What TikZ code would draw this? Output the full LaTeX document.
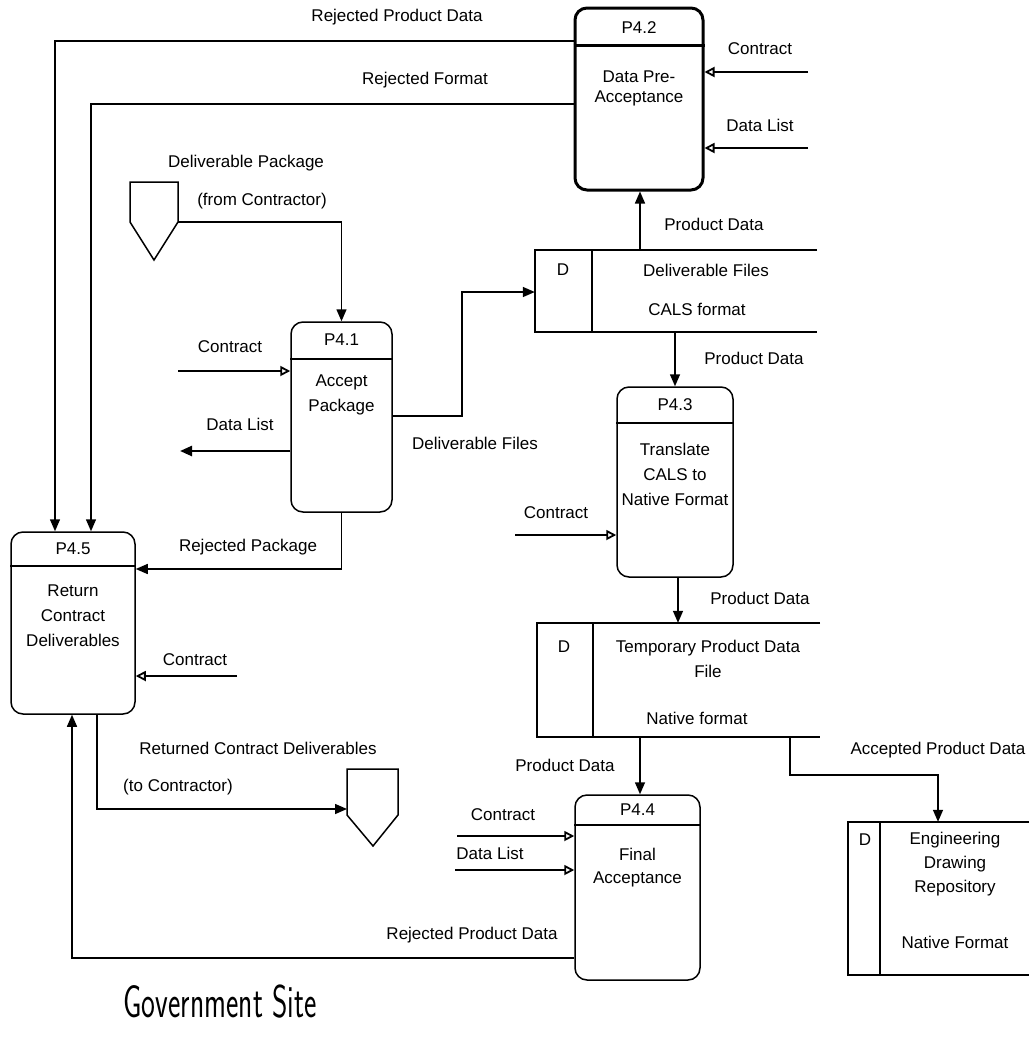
\documentclass[tikz,border=0pt]{standalone}
\usepackage{fontspec}
\setmainfont{Liberation Sans}
\usetikzlibrary{arrows.meta}

\tikzset{
  line/.style={line width=1.5pt},
  proc/.style={draw, line width=1.5pt, rounded corners=12pt, inner sep=0pt},
  store/.style={inner sep=0pt},
  lbl/.style={font=\fontsize{17}{25}\selectfont, inner sep=0pt, align=center},
  flow/.style={line width=1.5pt, -{Triangle[length=12pt,width=10pt]}},
  inflow/.style={line width=2.4pt, -{Triangle[open,length=10pt,width=10pt,line width=1.8pt]}},
}

\begin{document}
\begin{tikzpicture}[x=1pt,y=-1pt]
  \useasboundingbox (0,0) rectangle (1029,1050);

  % processes
  \node[proc, line width=3pt, minimum width=128pt, minimum height=182pt] (p42) at (639,99) {};
  \node[proc, minimum width=101pt, minimum height=190pt] (p41) at (341.5,417) {};
  \node[proc, minimum width=116pt, minimum height=190pt] (p43) at (675,482) {};
  \node[proc, minimum width=125pt, minimum height=185pt] (p44) at (637.5,887.5) {};
  \node[proc, minimum width=124pt, minimum height=182pt] (p45) at (73,623) {};

  \draw[line width=3pt] (p42.west |- 0,45) -- (p42.east |- 0,45);
  \draw[line] (p41.west |- 0,359) -- (p41.east |- 0,359);
  \draw[line] (p43.west |- 0,423) -- (p43.east |- 0,423);
  \draw[line] (p44.west |- 0,825) -- (p44.east |- 0,825);
  \draw[line] (p45.west |- 0,566) -- (p45.east |- 0,566);

  \node[lbl] (p42t) at (639,28) {P4.2};
  \node[lbl, font=\fontsize{17}{20}\selectfont] (p42b) at (639,88) {Data Pre-\\Acceptance};
  \node[lbl] (p41t) at (341.5,340) {P4.1};
  \node[lbl] (p41b) at (341.5,395) {Accept\\Package};
  \node[lbl] (p43t) at (675,405) {P4.3};
  \node[lbl] (p43b) at (675,474) {Translate\\CALS to\\Native Format};
  \node[lbl] (p44t) at (637.5,810) {P4.4};
  \node[lbl, font=\fontsize{17}{23}\selectfont] (p44b) at (637.5,868) {Final\\Acceptance};
  \node[lbl] (p45t) at (73,549) {P4.5};
  \node[lbl] (p45b) at (73,616) {Return\\Contract\\Deliverables};

  % data stores
  \node[store, minimum width=282pt, minimum height=82pt] (ds1) at (676,291) {};
  \node[store, minimum width=283pt, minimum height=114pt] (ds2) at (678.5,680) {};
  \node[store, minimum width=181pt, minimum height=153pt] (ds3) at (938.5,898.5) {};
  \foreach \s/\w in {ds1/57, ds2/56, ds3/32} {
    \draw[line] (\s.north east) -- (\s.north west) -- (\s.south west) -- (\s.south east);
    \draw[line] ([xshift=\w pt]\s.north west) -- ([xshift=\w pt]\s.south west);
  }
  \node[lbl] (ds1d) at (563,270) {D};
  \node[lbl] (ds1a) at (706,270) {Deliverable Files};
  \node[lbl] (ds1b) at (697,309) {CALS format};
  \node[lbl] (ds2d) at (564,647) {D};
  \node[lbl] (ds2a) at (708,659) {Temporary Product Data\\File};
  \node[lbl] (ds2b) at (697,718) {Native format};
  \node[lbl] (ds3d) at (865,840) {D};
  \node[lbl, font=\fontsize{17}{24}\selectfont] (ds3a) at (955,864) {Engineering\\Drawing\\Repository};
  \node[lbl] (ds3b) at (955,942) {Native Format};

  % off-page connectors
  \draw[line] (130,182) -- (178,182) -- (178,222) -- (154,260) -- (130,222) -- cycle;
  \draw[line] (347,769) -- (398,769) -- (398,815) -- (373,846) -- (347,815) -- cycle;
  \coordinate (offin) at (178,222);
  \coordinate (offout) at (347,809);

  % flows around P4.2
  \coordinate (rpd) at (55,41);
  \coordinate (rf) at (91,104);
  \draw[flow] (p42.west |- rpd) -- (rpd) -- (rpd |- p45.north);
  \draw[flow] (p42.west |- rf) -- (rf) -- (rf |- p45.north);
  \node[lbl] (rpdl) at (397,17) {Rejected Product Data};
  \node[lbl] (rfl) at (425,80) {Rejected Format};
  \coordinate (c42) at (808,72);
  \coordinate (dl42) at (808,148);
  \draw[inflow] (c42) -- (c42 -| p42.east);
  \draw[inflow] (dl42) -- (dl42 -| p42.east);
  \node[lbl] (c42l) at (760,49) {Contract};
  \node[lbl] (dl42l) at (760,125) {Data List};
  \coordinate (pd1) at (640,220);
  \draw[flow] (pd1 |- ds1.north) -- (pd1 |- p42.south);
  \node[lbl] (pd1l) at (714,224) {Product Data};

  % flows around P4.1
  \coordinate (dp) at (341.5,222);
  \draw[flow] (offin) -- (dp) -- (dp |- p41.north);
  \node[lbl] (dpl) at (246,163) {Deliverable Package};
  \node[lbl] (dpl2) at (262,201) {(from Contractor)};
  \coordinate (c41) at (178,371);
  \coordinate (dl41) at (180,451);
  \draw[inflow] (c41) -- (c41 -| p41.west);
  \draw[flow, line width=2.4pt] (dl41 -| p41.west) -- (dl41);
  \node[lbl] (c41l) at (230,347) {Contract};
  \node[lbl] (dl41l) at (240,424) {Data List};
  \coordinate (df) at (462,292);
  \draw[flow] (p41.east |- 0,416) -- (df |- 0,416) -- (df) -- (df -| ds1.west);
  \node[lbl] (dfl) at (475,443) {Deliverable Files};
  \coordinate (rp) at (341.5,569);
  \draw[flow] (rp |- p41.south) -- (rp) -- (rp -| p45.east);
  \node[lbl] (rpl) at (248,547) {Rejected Package};

  % flows around P4.3
  \coordinate (pd2) at (675,360);
  \draw[flow] (pd2 |- ds1.south) -- (pd2 |- p43.north);
  \node[lbl] (pd2l) at (754,358) {Product Data};
  \coordinate (c43) at (515,535);
  \draw[inflow] (c43) -- (c43 -| p43.west);
  \node[lbl] (c43l) at (556,513) {Contract};
  \coordinate (pd3) at (678,600);
  \draw[flow] (pd3 |- p43.south) -- (pd3 |- ds2.north);
  \node[lbl] (pd3l) at (760,598) {Product Data};

  % flows around P4.4
  \coordinate (pd4) at (640,765);
  \draw[flow] (pd4 |- ds2.south) -- (pd4 |- p44.north);
  \node[lbl] (pd4l) at (565,765) {Product Data};
  \coordinate (apd) at (790,775);
  \coordinate (apd2) at (938,775);
  \draw[flow] (apd |- ds2.south) -- (apd) -- (apd2) -- (apd2 |- ds3.north);
  \node[lbl] (apdl) at (938,750) {Accepted Product Data};
  \coordinate (c44) at (457,836);
  \coordinate (dl44) at (455,870);
  \draw[inflow] (c44) -- (c44 -| p44.west);
  \draw[inflow] (dl44) -- (dl44 -| p44.west);
  \node[lbl] (c44l) at (503,815) {Contract};
  \node[lbl] (dl44l) at (490,853) {Data List};
  \coordinate (rpd2) at (72,958);
  \draw[flow] (p44.west |- rpd2) -- (rpd2) -- (rpd2 |- p45.south);
  \node[lbl] (rpd2l) at (472,935) {Rejected Product Data};

  % flows around P4.5
  \coordinate (c45) at (237,676);
  \draw[inflow] (c45) -- (c45 -| p45.east);
  \node[lbl] (c45l) at (195,660) {Contract};
  \coordinate (ret) at (97,809);
  \draw[flow] (ret |- p45.south) -- (ret) -- (offout);
  \node[lbl] (retl) at (258,748) {Returned Contract Deliverables};
  \node[lbl] (retl2) at (178,787) {(to Contractor)};

  \node[inner sep=0pt, font=\sffamily\fontsize{46}{46}\selectfont] (site) at (220,1002) {\scalebox{0.64}[1]{Government Site}};
\end{tikzpicture}
\end{document}
